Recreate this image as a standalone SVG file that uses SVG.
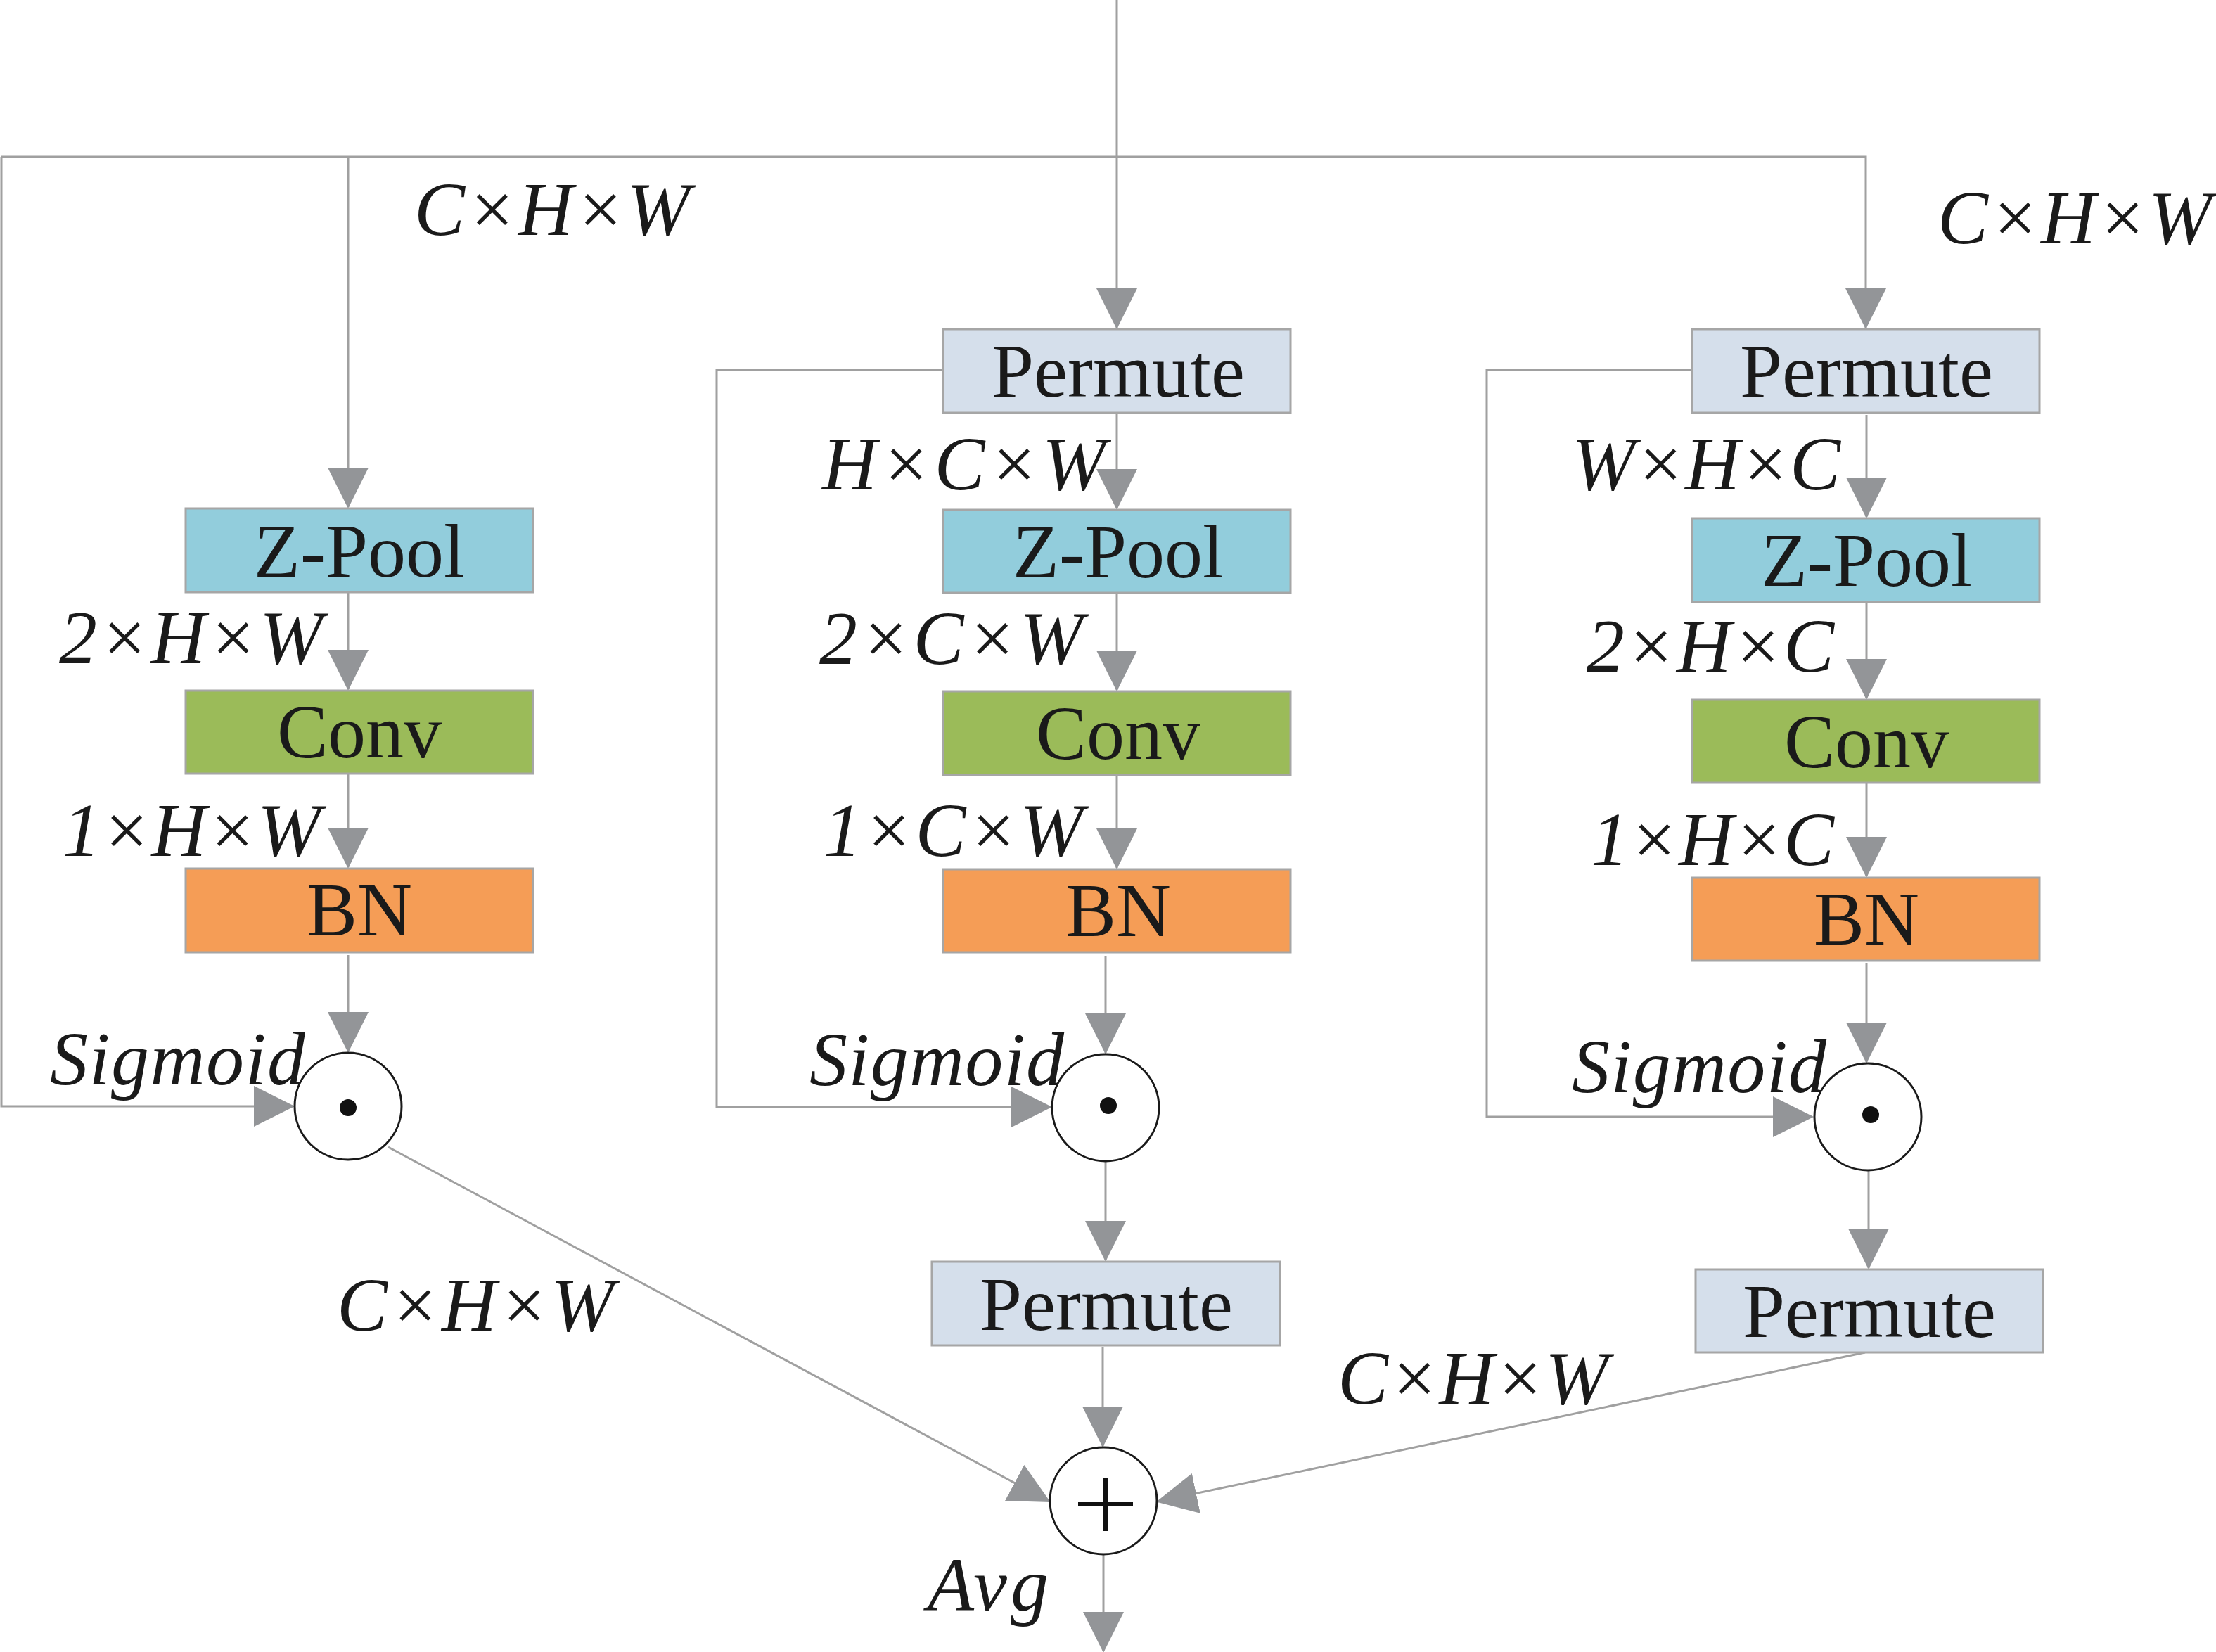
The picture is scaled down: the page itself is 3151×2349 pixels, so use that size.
<svg xmlns="http://www.w3.org/2000/svg" width="3151" height="2349" viewBox="0 0 3151 2349">
<style>
.box{stroke:#a6a6a6;stroke-width:3}
.perm{fill:#d5dfeb}
.zpool{fill:#92cddc}
.conv{fill:#9bbb59}
.bn{fill:#f59d56}
.lbl{font-family:"Liberation Serif","Times New Roman",serif;font-size:108px;fill:#1a1a1a;text-anchor:middle}
.dim{font-family:"Liberation Serif","Times New Roman",serif;font-size:108px;font-style:italic;fill:#1a1a1a}
.op{fill:#ffffff;stroke:#1a1a1a;stroke-width:3}
.wire{fill:none;stroke:#a0a0a0;stroke-width:3}
.arr{marker-end:url(#ah)}
</style>
<defs>
<marker id="ah" markerUnits="userSpaceOnUse" markerWidth="58" markerHeight="58" viewBox="0 0 58 58" refX="56" refY="29" orient="auto">
<path d="M0,0 L58,29 L0,58 Z" fill="#939598"/>
</marker>
</defs>
<rect width="3151" height="2349" fill="#ffffff"/>

<g id="connectors">
<path class="wire arr" d="M1588,0 V466"/>
<path class="wire arr" d="M2,223 H2653 V466"/>
<path class="wire arr" d="M495,223 V721"/>
<path class="wire arr" d="M2,223 V1573 H417"/>
<path class="wire arr" d="M1341,526 H1019 V1574 H1494"/>
<path class="wire arr" d="M2406,526 H2114 V1588 H2577"/>
<!-- left column -->
<path class="wire arr" d="M495,842 V980"/>
<path class="wire arr" d="M495,1100 V1233"/>
<path class="wire arr" d="M495,1358 V1495"/>
<!-- middle column -->
<path class="wire arr" d="M1588,587 V723"/>
<path class="wire arr" d="M1588,843 V981"/>
<path class="wire arr" d="M1588,1102 V1234"/>
<path class="wire arr" d="M1572,1360 V1497"/>
<path class="wire arr" d="M1572,1652 V1792"/>
<path class="wire arr" d="M1568,1915 V2056"/>
<!-- right column -->
<path class="wire arr" d="M2654,590 V735"/>
<path class="wire arr" d="M2654,856 V993"/>
<path class="wire arr" d="M2654,1113 V1246"/>
<path class="wire arr" d="M2654,1370 V1510"/>
<path class="wire arr" d="M2657,1665 V1803"/>
<!-- merges -->
<path class="wire arr" d="M552,1631 L1492,2135"/>
<path class="wire arr" d="M2652,1923 L1646,2135"/>
<path class="wire arr" d="M1569,2211 V2348"/>
</g>

<g id="labels">
<text class="dim" x="589" y="334" textLength="392" lengthAdjust="spacing">C×H×W</text>
<text class="dim" x="2755" y="346" textLength="390" lengthAdjust="spacing">C×H×W</text>
<text class="dim" x="1169" y="696" textLength="403" lengthAdjust="spacing">H×C×W</text>
<text class="dim" x="2235" y="696" textLength="382" lengthAdjust="spacing">W×H×C</text>
<text class="dim" x="84" y="943" textLength="375" lengthAdjust="spacing">2×H×W</text>
<text class="dim" x="1165" y="944" textLength="375" lengthAdjust="spacing">2×C×W</text>
<text class="dim" x="2256" y="955" textLength="352" lengthAdjust="spacing">2×H×C</text>
<text class="dim" x="89" y="1217" textLength="367" lengthAdjust="spacing">1×H×W</text>
<text class="dim" x="1171" y="1217" textLength="369" lengthAdjust="spacing">1×C×W</text>
<text class="dim" x="2262" y="1230" textLength="346" lengthAdjust="spacing">1×H×C</text>
<text class="dim" x="71" y="1542" textLength="363" lengthAdjust="spacing">Sigmoid</text>
<text class="dim" x="1151" y="1543" textLength="362" lengthAdjust="spacing">Sigmoid</text>
<text class="dim" x="2235" y="1553" textLength="362" lengthAdjust="spacing">Sigmoid</text>
<text class="dim" x="479" y="1892" textLength="394" lengthAdjust="spacing">C×H×W</text>
<text class="dim" x="1902" y="1996" textLength="385" lengthAdjust="spacing">C×H×W</text>
<text class="dim" x="1319" y="2290" textLength="172" lengthAdjust="spacing">Avg</text>
</g>

<!-- left branch -->
<g id="zpool-left"><rect class="box zpool" x="264" y="723" width="494" height="119"/><text class="lbl" x="511" y="820">Z-Pool</text></g>
<g id="conv-left"><rect class="box conv" x="264" y="982" width="494" height="118"/><text class="lbl" x="511" y="1077">Conv</text></g>
<g id="bn-left"><rect class="box bn" x="264" y="1235" width="494" height="119"/><text class="lbl" x="511" y="1330">BN</text></g>
<g id="mul-left"><circle class="op" cx="495" cy="1573" r="76"/><circle cx="495" cy="1575" r="12" fill="#111"/></g>

<!-- middle branch -->
<g id="permute-mid-top"><rect class="box perm" x="1341" y="468" width="494" height="119"/><text class="lbl" x="1590" y="564">Permute</text></g>
<g id="zpool-mid"><rect class="box zpool" x="1341" y="725" width="494" height="118"/><text class="lbl" x="1590" y="821">Z-Pool</text></g>
<g id="conv-mid"><rect class="box conv" x="1341" y="983" width="494" height="119"/><text class="lbl" x="1590" y="1079">Conv</text></g>
<g id="bn-mid"><rect class="box bn" x="1341" y="1236" width="494" height="118"/><text class="lbl" x="1590" y="1331">BN</text></g>
<g id="mul-mid"><circle class="op" cx="1572" cy="1575" r="76"/><circle cx="1576" cy="1572" r="12" fill="#111"/></g>
<g id="permute-mid-bottom"><rect class="box perm" x="1325" y="1794" width="495" height="119"/><text class="lbl" x="1573" y="1891">Permute</text></g>

<!-- right branch -->
<g id="permute-right-top"><rect class="box perm" x="2406" y="468" width="494" height="119"/><text class="lbl" x="2654" y="564">Permute</text></g>
<g id="zpool-right"><rect class="box zpool" x="2406" y="737" width="494" height="119"/><text class="lbl" x="2654" y="833">Z-Pool</text></g>
<g id="conv-right"><rect class="box conv" x="2406" y="995" width="494" height="118"/><text class="lbl" x="2654" y="1091">Conv</text></g>
<g id="bn-right"><rect class="box bn" x="2406" y="1248" width="494" height="118"/><text class="lbl" x="2654" y="1343">BN</text></g>
<g id="mul-right"><circle class="op" cx="2656" cy="1588" r="76"/><circle cx="2660" cy="1585" r="12" fill="#111"/></g>
<g id="permute-right-bottom"><rect class="box perm" x="2411" y="1805" width="494" height="118"/><text class="lbl" x="2658" y="1901">Permute</text></g>

<!-- sum -->
<g id="sum"><circle class="op" cx="1569" cy="2134" r="76"/><path d="M1533,2139 H1611 M1572,2101 V2177" stroke="#111" stroke-width="6" fill="none"/></g>
</svg>
